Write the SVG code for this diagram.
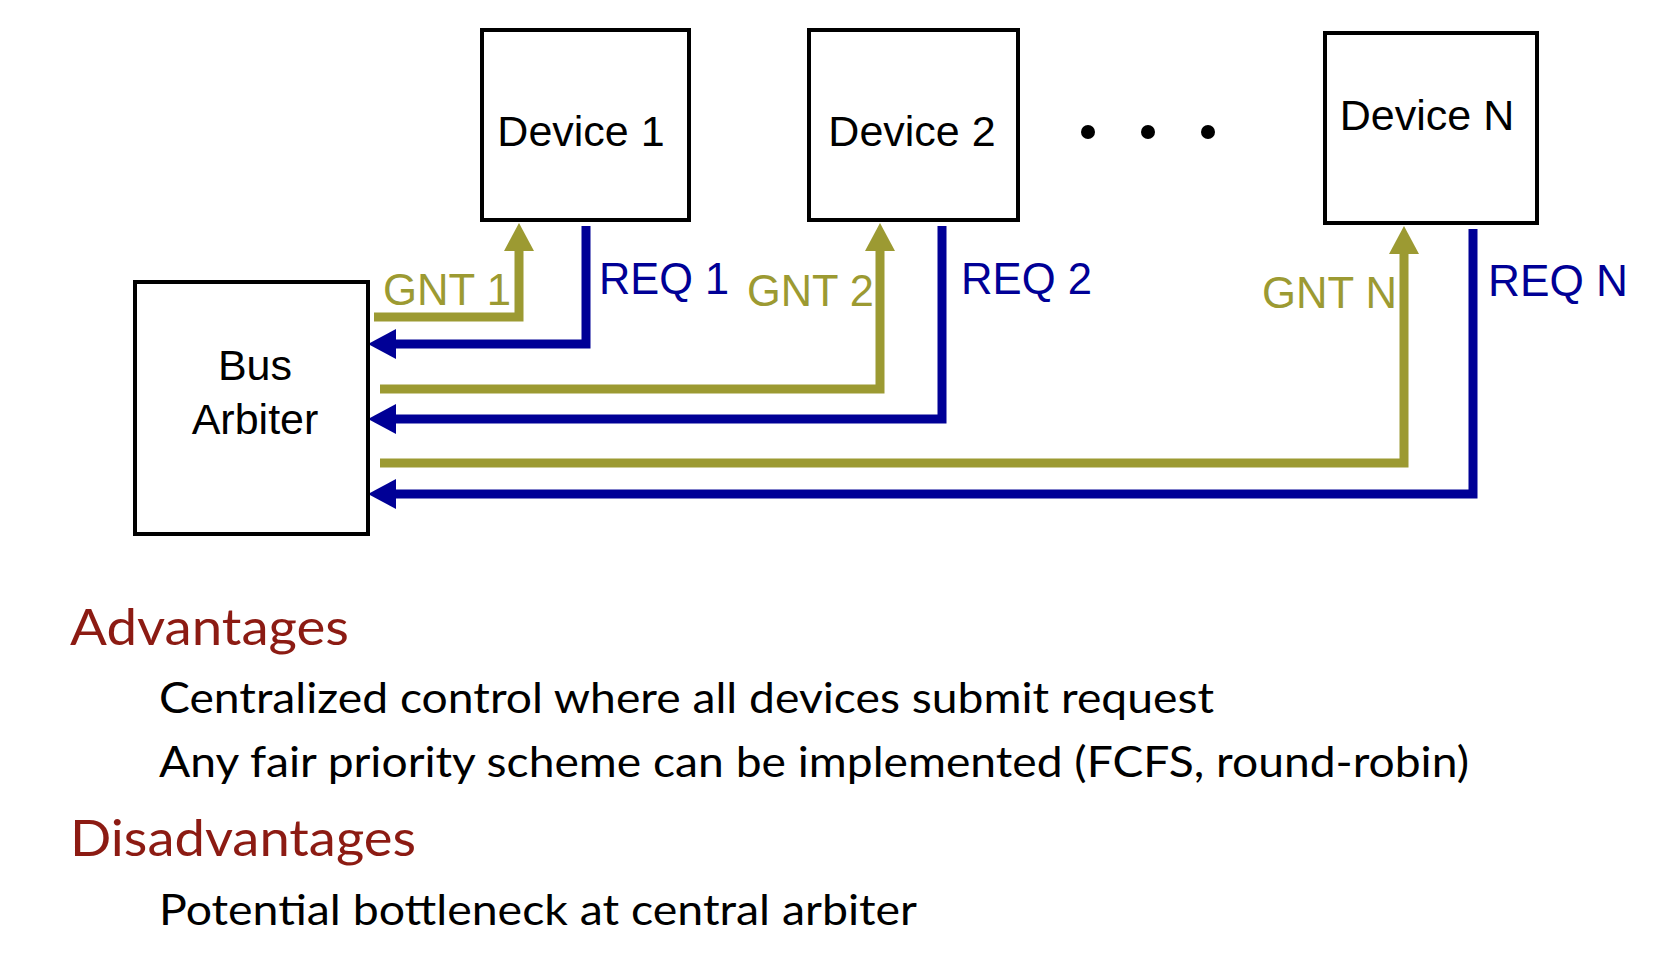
<svg xmlns="http://www.w3.org/2000/svg" width="1668" height="974" viewBox="0 0 1668 974">
<style>
.box{fill:#fff;stroke:#000;stroke-width:4}
.nt{font-family:"Liberation Sans",Arial,sans-serif;font-size:43px;fill:#000}
.gnt{fill:none;stroke:#9C9A32;stroke-width:9;stroke-linejoin:miter}
.req{fill:none;stroke:#000096;stroke-width:9;stroke-linejoin:miter}
.gl{font-family:"Liberation Sans",Arial,sans-serif;font-size:45px;fill:#9C9A32}
.rl{font-family:"Liberation Sans",Arial,sans-serif;font-size:45px;fill:#000096}
.h{font-family:Lato,"Open Sans",sans-serif;font-size:51px;fill:#8C1B13}
.b{font-family:Lato,"Open Sans",sans-serif;font-size:42px;fill:#000}
</style>
<defs>
<marker id="ag" markerUnits="userSpaceOnUse" markerWidth="30" markerHeight="32" refX="2" refY="15" orient="auto" viewBox="0 0 30 32" overflow="visible"><path d="M0,0 L28,15 L0,30 z" fill="#9C9A32"/></marker>
<marker id="ar" markerUnits="userSpaceOnUse" markerWidth="30" markerHeight="32" refX="2" refY="15" orient="auto" viewBox="0 0 30 32" overflow="visible"><path d="M0,0 L28,15 L0,30 z" fill="#000096"/></marker>
</defs>
<g id="connectors">
<path class="gnt" d="M374,317 H519 V249" marker-end="url(#ag)"/>
<path class="req" d="M586,226 V344 H394" marker-end="url(#ar)"/>
<path class="gnt" d="M380,389 H880 V249" marker-end="url(#ag)"/>
<path class="req" d="M942,226 V419 H394" marker-end="url(#ar)"/>
<path class="gnt" d="M380,463 H1404 V252" marker-end="url(#ag)"/>
<path class="req" d="M1473,229 V494 H394" marker-end="url(#ar)"/>
<text class="gl" x="383" y="305" textLength="128" lengthAdjust="spacingAndGlyphs">GNT 1</text>
<text class="rl" x="599" y="294" textLength="130" lengthAdjust="spacingAndGlyphs">REQ 1</text>
<text class="gl" x="747" y="306" textLength="127" lengthAdjust="spacingAndGlyphs">GNT 2</text>
<text class="rl" x="961" y="294" textLength="131" lengthAdjust="spacingAndGlyphs">REQ 2</text>
<text class="gl" x="1262" y="308" textLength="135" lengthAdjust="spacingAndGlyphs">GNT N</text>
<text class="rl" x="1488" y="296" textLength="140" lengthAdjust="spacingAndGlyphs">REQ N</text>
</g>
<g id="device1"><rect class="box" x="482" y="30" width="207" height="190"/><text class="nt" x="581" y="146" text-anchor="middle">Device 1</text></g>
<g id="device2"><rect class="box" x="809" y="30" width="209" height="190"/><text class="nt" x="912" y="146" text-anchor="middle">Device 2</text></g>
<g id="dots"><circle cx="1088" cy="132" r="7"/><circle cx="1148" cy="132" r="7"/><circle cx="1208" cy="132" r="7"/></g>
<g id="deviceN"><rect class="box" x="1325" y="33" width="212" height="190"/><text class="nt" x="1427" y="130" text-anchor="middle">Device N</text></g>
<g id="arbiter"><rect class="box" x="135" y="282" width="233" height="252"/><text class="nt" x="255" y="380" text-anchor="middle">Bus</text><text class="nt" x="255" y="434" text-anchor="middle">Arbiter</text></g>
<g id="notes">
<text class="h" x="70" y="645" textLength="279" lengthAdjust="spacingAndGlyphs">Advantages</text>
<text class="b" x="159" y="713" textLength="1055" lengthAdjust="spacingAndGlyphs">Centralized control where all devices submit request</text>
<text class="b" x="159" y="777" textLength="1310" lengthAdjust="spacingAndGlyphs">Any fair priority scheme can be implemented (FCFS, round-robin)</text>
<text class="h" x="70" y="856" textLength="346" lengthAdjust="spacingAndGlyphs">Disadvantages</text>
<text class="b" x="159" y="925" textLength="758" lengthAdjust="spacingAndGlyphs">Potential bottleneck at central arbiter</text>
</g>
</svg>
